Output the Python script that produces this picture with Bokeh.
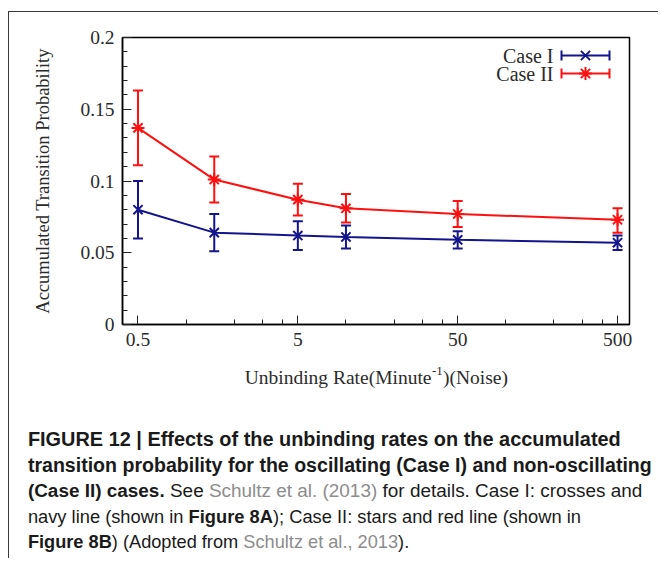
import numpy as np
from bokeh.plotting import figure
from bokeh.models import (FixedTicker, Whisker, ColumnDataSource, Label, TeeHead, Range1d)
from bokeh.embed import file_html
from bokeh.resources import INLINE

# ---------------- data ----------------
rates = [0.5, 1.5, 5, 10, 50, 500]
case1 = [0.080, 0.064, 0.062, 0.061, 0.059, 0.057]
case1_lo = [0.060, 0.051, 0.052, 0.053, 0.053, 0.052]
case1_hi = [0.100, 0.077, 0.072, 0.069, 0.065, 0.062]
case2 = [0.137, 0.101, 0.087, 0.081, 0.077, 0.073]
case2_lo = [0.111, 0.085, 0.076, 0.071, 0.068, 0.064]
case2_hi = [0.163, 0.117, 0.098, 0.091, 0.086, 0.081]

x_ticks = [0.5, 5, 50, 500]
x_tick_labels = ["0.5", "5", "50", "500"]
x_minor = [1, 2, 3, 4, 10, 20, 30, 40, 100, 200, 300, 400]
y_ticks = [0, 0.05, 0.1, 0.15, 0.2]
y_tick_labels = ["0", "0.05", "0.1", "0.15", "0.2"]
y_minor = [0.01, 0.02, 0.03, 0.04, 0.06, 0.07, 0.08, 0.09, 0.11, 0.12, 0.13,
           0.14, 0.16, 0.17, 0.18, 0.19]
series_names = ["Case I", "Case II"]
x_title = ("Unbinding Rate(Minute", "-1", ")(Noise)")
y_title = "Accumulated Transition Probability"

NAVY = "#14148c"
RED = "#ff1010"
SERIF = "Liberation Serif"
SANS = "Liberation Sans"
TXT = "#2b2b2b"
BORDER = "1px solid #3a3a3a"

# ---------------- geometry ----------------
W, H = 650, 348
FL, FT, FR, FB = 113, 25, 620, 312          # frame in canvas px
PAGE_X0, PAGE_Y0 = 9, 12                    # chart canvas origin on the page
XMIN, XMAX = 0.4, 594
YMIN, YMAX = 0.0, 0.2

p = figure(width=W, height=H, x_axis_type="log",
           x_range=Range1d(XMIN, XMAX), y_range=Range1d(YMIN, YMAX),
           output_backend="svg", toolbar_location=None,
           min_border_left=FL, min_border_top=FT,
           min_border_right=W - FR, min_border_bottom=H - FB)
p.styles = {"margin-left": "8px", "margin-top": "11px",
            "border-top": BORDER, "border-left": BORDER}
p.background_fill_color = "white"
p.border_fill_color = "white"
p.outline_line_color = "black"
p.outline_line_width = 1.5
p.xgrid.visible = False
p.ygrid.visible = False

xa = p.xaxis[0]
xa.ticker = FixedTicker(ticks=x_ticks, minor_ticks=x_minor)
xa.major_label_overrides = {t: l for t, l in zip(x_ticks, x_tick_labels)}
ya = p.yaxis[0]
ya.ticker = FixedTicker(ticks=y_ticks, minor_ticks=y_minor)
ya.major_label_overrides = {t: l for t, l in zip(y_ticks, y_tick_labels)}
for ax in (xa, ya):
    ax.axis_line_color = "black"
    ax.axis_line_width = 1.5
    ax.major_tick_in = 9
    ax.major_tick_out = 0
    ax.minor_tick_in = 5
    ax.minor_tick_out = 0
    ax.major_tick_line_color = "#222"
    ax.minor_tick_line_color = "#222"
    ax.major_label_text_font = SERIF
    ax.major_label_text_font_size = "19.5px"
    ax.major_label_text_color = TXT
    ax.major_label_standoff = 8
ya.axis_label = y_title
ya.axis_label_text_font = SERIF
ya.axis_label_text_font_size = "18.5px"
ya.axis_label_text_font_style = "normal"
ya.axis_label_text_color = TXT
ya.axis_label_standoff = 24

# ---------------- series ----------------
for ys, lo, hi, col, mk in ((case1, case1_lo, case1_hi, NAVY, "x"),
                            (case2, case2_lo, case2_hi, RED, "asterisk")):
    src = ColumnDataSource(dict(x=rates, y=ys, lo=lo, hi=hi))
    p.line("x", "y", source=src, line_color=col, line_width=2)
    p.add_layout(Whisker(base="x", upper="hi", lower="lo", source=src,
                         dimension="height", line_color=col, line_width=2,
                         upper_head=TeeHead(size=10, line_color=col, line_width=2),
                         lower_head=TeeHead(size=10, line_color=col, line_width=2)))
    p.scatter("x", "y", source=src, marker=mk, size=13, line_color=col,
              line_width=2)


# ---------------- legend (text left, sample right) ----------------
def fx(px):
    fl = PAGE_X0 + FL
    fr = PAGE_X0 + FR
    return 10 ** (np.log10(XMIN) + (px - fl) / (fr - fl) * (np.log10(XMAX) - np.log10(XMIN)))


def fy(py):
    ft = PAGE_Y0 + FT
    fb = PAGE_Y0 + FB
    return YMIN + (fb - py) / (fb - ft) * (YMAX - YMIN)


for name, col, mk, py in ((series_names[0], NAVY, "x", 55),
                          (series_names[1], RED, "asterisk", 73)):
    p.add_layout(Label(x=553 - (PAGE_X0 + FL), y=(PAGE_Y0 + FB) - py,
                       x_units="screen", y_units="screen", text=name,
                       text_font=SERIF, text_font_size="20px", text_align="right",
                       text_baseline="middle", text_color=TXT))
    lsrc = ColumnDataSource(dict(y=[fy(py)], a=[fx(561)], b=[fx(609)], c=[fx(585)]))
    p.add_layout(Whisker(base="y", lower="a", upper="b", source=lsrc,
                         dimension="width", line_color=col, line_width=2,
                         upper_head=TeeHead(size=10, line_color=col, line_width=2),
                         lower_head=TeeHead(size=10, line_color=col, line_width=2)))
    p.scatter("c", "y", source=lsrc, marker=mk, size=13, line_color=col, line_width=2)

# ---------------- lower panel (separate root): x title + caption ----------------
W2, H2 = 650, 199
C_X0, C_Y0 = PAGE_X0, PAGE_Y0 + H
pc = figure(width=W2, height=H2, x_range=Range1d(0, W2), y_range=Range1d(H2, 0),
            output_backend="svg", toolbar_location=None, min_border=0,
            x_axis_location=None, y_axis_location=None)
pc.styles = {"margin-left": "8px", "border-left": BORDER}
pc.outline_line_color = None
pc.background_fill_color = "white"
pc.border_fill_color = "white"
for g in pc.grid:
    g.visible = False


def lbl(text, px, py, size, font=SERIF, align="left", baseline="middle",
        style="normal", color=TXT):
    pc.add_layout(Label(x=px - C_X0, y=py - C_Y0, text=text,
                        text_font=font, text_font_size=size,
                        text_align=align, text_baseline=baseline,
                        text_font_style=style, text_color=color))


# x axis title with superscript
lbl(x_title[0], 431, 378, "19.5px", align="right")
lbl(x_title[1], 431.5, 371, "13px")
lbl(x_title[2], 442.5, 378, "19.5px")

# Arial / Liberation Sans advance widths (1/1000 em)
_REG = dict(zip(" ()-.,:;|0123456789", [278, 333, 333, 333, 278, 278, 278, 278, 260] + [556] * 10))
_REG.update(dict(A=667, B=667, C=722, E=667, F=611, G=778, I=278, R=722, S=667, U=722))
_REG.update(dict(a=556, b=556, c=500, d=556, e=556, f=278, g=556, h=556, i=222, l=222,
                 m=833, n=556, o=556, p=556, r=333, s=500, t=278, u=556, v=500, w=722,
                 y=500, z=500))
_BOLD = dict(zip(" ()-.,:;|0123456789", [278, 333, 333, 333, 278, 278, 333, 333, 280] + [556] * 10))
_BOLD.update(dict(A=722, B=722, C=722, E=667, F=611, G=778, I=278, R=722, S=667, U=722))
_BOLD.update(dict(a=556, b=611, c=556, d=611, e=556, f=333, g=611, h=611, i=278, l=278,
                  m=889, n=611, o=611, p=611, r=389, s=556, t=333, u=611, v=556, w=778,
                  y=556, z=500))


def em(text, bold):
    tab = _BOLD if bold else _REG
    return sum(tab.get(ch, 556) for ch in text) / 1000.0


DARK = "#1a1a1a"
GREY = "#8c8c8c"
caption_lines = [
    [("FIGURE 12 | Effects of the unbinding rates on the accumulated", True, DARK)],
    [("transition probability for the oscillating (Case I) and non-oscillating", True, DARK)],
    [("(Case II) cases.", True, DARK), (" See ", False, DARK),
     ("Schultz et al. (2013)", False, GREY), (" for details. Case I: crosses and", False, DARK)],
    [("navy line (shown in ", False, DARK), ("Figure 8A", True, DARK),
     ("); Case II: stars and red line (shown in", False, DARK)],
    [("Figure 8B", True, DARK), (") (Adopted from ", False, DARK),
     ("Schultz et al., 2013", False, GREY), (").", False, DARK)],
]
cap_left = 27.4
cap_right = [620.8, 651.6, 642.0, 580.7, 405.4]   # where each line ends
cap_base = [439.5, 465, 491, 516.5, 542]           # baselines

for segs, right, base in zip(caption_lines, cap_right, cap_base):
    total = sum(em(t, b) for t, b, c in segs)
    size = (right - cap_left) / total
    size = min(max(size, 18.2), 20.0)
    x = cap_left
    for t, b, c in segs:
        lead = len(t) - len(t.lstrip(" "))
        x0 = x + em(" " * lead, b) * size
        lbl(t.strip(" "), x0, base, "%.2fpx" % size, font=SANS, baseline="alphabetic",
            style="bold" if b else "normal", color=c)
        x += em(t, b) * size

open("out.html", "w").write(file_html([p, pc], INLINE))
